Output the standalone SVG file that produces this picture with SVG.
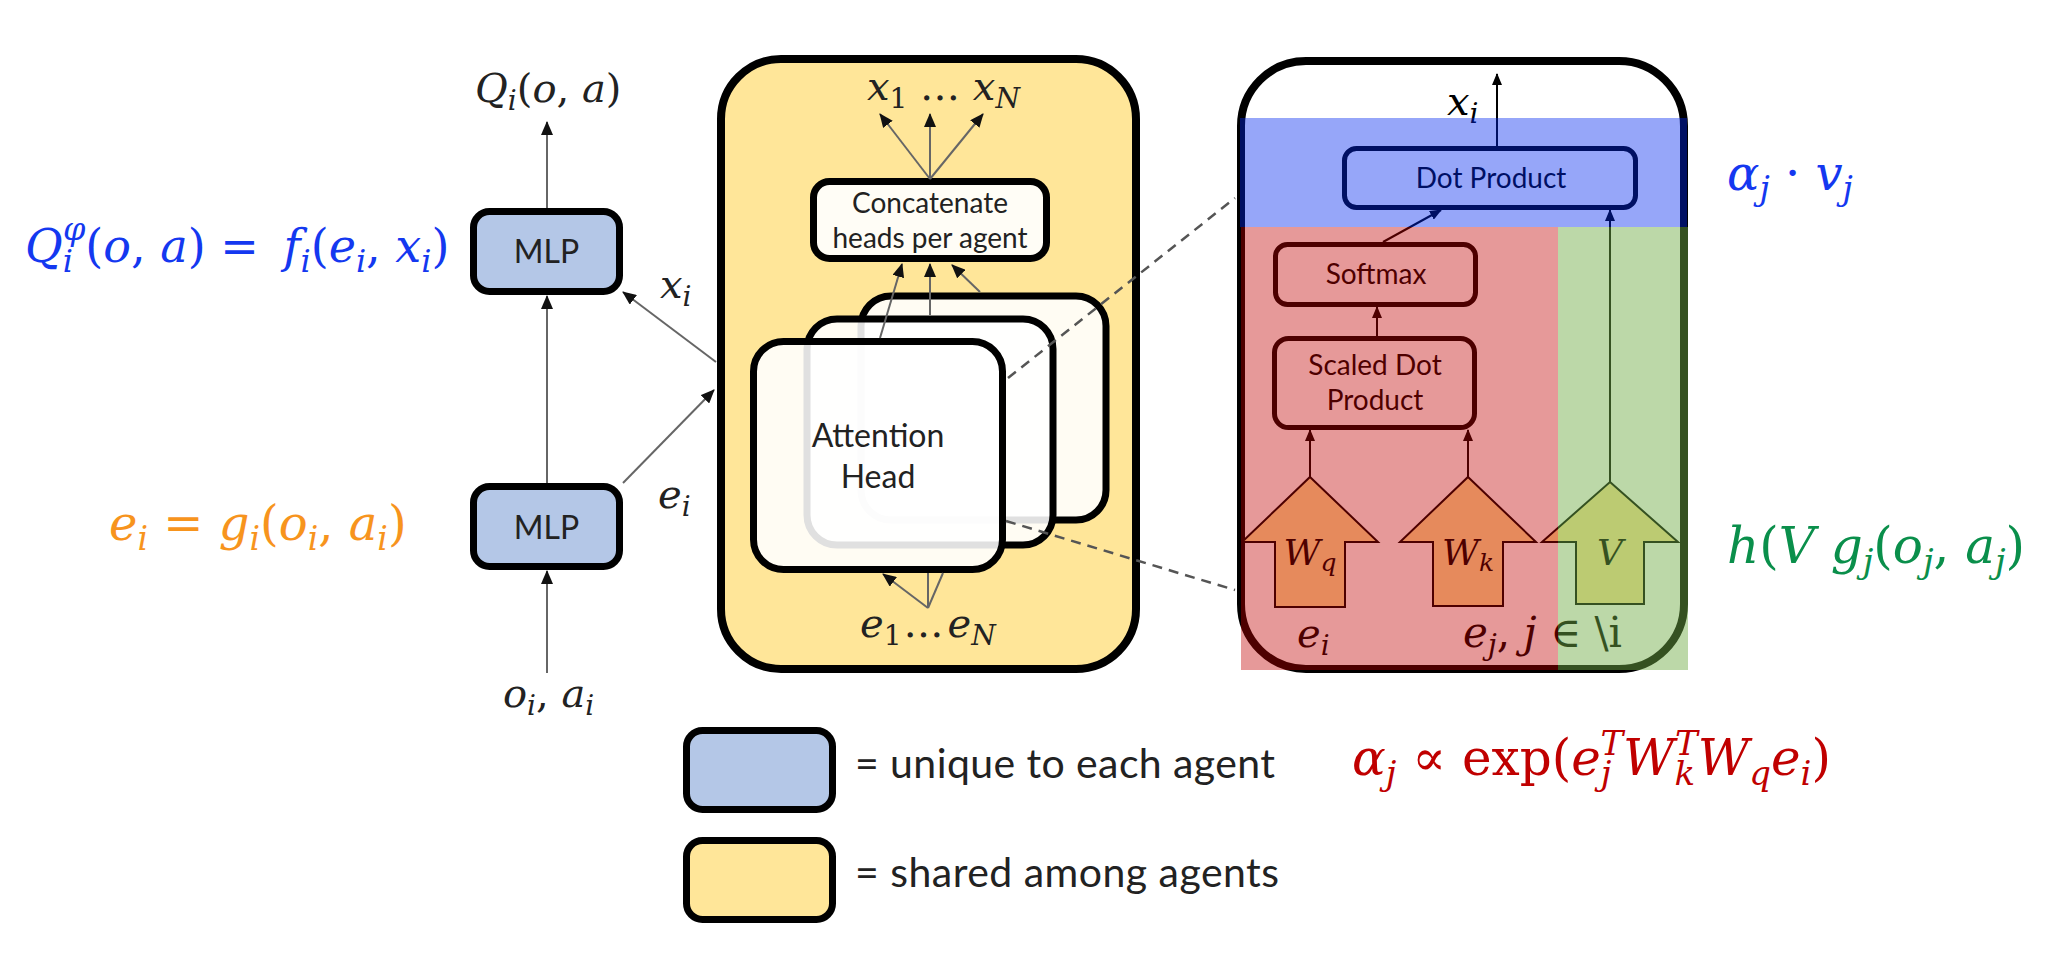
<svg xmlns="http://www.w3.org/2000/svg" width="2048" height="965" viewBox="0 0 2048 965">
<defs>
<style>
.sans{font-family:Lato,"Liberation Sans",sans-serif;fill:#222;}
.m{font-family:"DejaVu Serif","Liberation Serif",serif;}
.i{font-style:italic}
.dk{fill:#222}
.box{stroke:#000;stroke-width:7;}
.mlp{fill:#B4C7E7}
.yel{fill:#FFE699}
.conn{stroke:#666;stroke-width:2;fill:none}
.pconn{stroke:#000;stroke-width:2;fill:none}
.dash{stroke:#555;stroke-width:2.5;stroke-dasharray:10 7;fill:none}
.head{fill:#fff;fill-opacity:0.88;stroke:#000;stroke-width:7}
.pbox{fill:#fff;stroke:#000;stroke-width:5}
.blk{fill:#FFE699;stroke:#000;stroke-width:2}
</style>
<marker id="ah" viewBox="0 0 14 12" refX="13" refY="6" markerWidth="14" markerHeight="12" orient="auto" markerUnits="userSpaceOnUse"><path d="M0,0 L14,6 L0,12 z" fill="#111"/></marker>
<marker id="ahs" viewBox="0 0 12 10" refX="11" refY="5" markerWidth="12" markerHeight="10" orient="auto" markerUnits="userSpaceOnUse"><path d="M0,0 L12,5 L0,10 z" fill="#000"/></marker>
</defs>
<rect x="0" y="0" width="2048" height="965" fill="#fff"/>

<!-- formulas -->
<text id="f-q" class="m" x="25" y="262" font-size="46" fill="#1438F0"><tspan class="i">Q</tspan><tspan class="i" font-size="32" dy="10">i</tspan><tspan class="i" font-size="32" dx="-10" dy="-32">φ</tspan><tspan dy="22">(</tspan><tspan class="i">o</tspan>,<tspan class="i"> a</tspan>) = <tspan class="i" dx="10">f</tspan><tspan class="i" font-size="32" dy="10">i</tspan><tspan dy="-10">(</tspan><tspan class="i">e</tspan><tspan class="i" font-size="32" dy="10">i</tspan><tspan dy="-10">, </tspan><tspan class="i">x</tspan><tspan class="i" font-size="32" dy="10">i</tspan><tspan dy="-10">)</tspan></text>
<text id="f-e" class="m" x="109" y="540" font-size="48" fill="#F7941D"><tspan class="i">e</tspan><tspan class="i" font-size="33" dy="10">i</tspan><tspan dy="-10"> = </tspan><tspan class="i">g</tspan><tspan class="i" font-size="33" dy="10">i</tspan><tspan dy="-10">(</tspan><tspan class="i">o</tspan><tspan class="i" font-size="33" dy="10">i</tspan><tspan dy="-10">, </tspan><tspan class="i">a</tspan><tspan class="i" font-size="33" dy="10">i</tspan><tspan dy="-10">)</tspan></text>
<text id="f-av" class="m" x="1727" y="190" font-size="48" fill="#1438F0"><tspan class="i">α</tspan><tspan class="i" font-size="33" dy="10">j</tspan><tspan dy="-10"> · </tspan><tspan class="i">v</tspan><tspan class="i" font-size="33" dy="10">j</tspan></text>
<text id="f-h" class="m" x="1727" y="563" font-size="50" fill="#0A8F4B"><tspan class="i">h</tspan>(<tspan class="i">V g</tspan><tspan class="i" font-size="34" dy="10">j</tspan><tspan dy="-10">(</tspan><tspan class="i">o</tspan><tspan class="i" font-size="34" dy="10">j</tspan><tspan dy="-10">, </tspan><tspan class="i">a</tspan><tspan class="i" font-size="34" dy="10">j</tspan><tspan dy="-10">)</tspan></text>
<text id="f-alpha" class="m" x="1352" y="775" font-size="50" fill="#C00000"><tspan class="i">α</tspan><tspan class="i" font-size="34" dy="10">j</tspan><tspan dy="-10"> ∝ exp(</tspan><tspan class="i">e</tspan><tspan class="i" font-size="34" dy="10">j</tspan><tspan class="i" font-size="34" dx="-11" dy="-30">T</tspan><tspan class="i" dy="20">W</tspan><tspan class="i" font-size="34" dy="10">k</tspan><tspan class="i" font-size="34" dx="-20" dy="-30">T</tspan><tspan class="i" dy="20">W</tspan><tspan class="i" font-size="34" dy="10">q</tspan><tspan class="i" dy="-10">e</tspan><tspan class="i" font-size="34" dy="10">i</tspan><tspan dy="-10">)</tspan></text>

<!-- left column -->
<g id="mlp-upper">
<rect class="box mlp" x="473.5" y="211.5" width="146" height="80" rx="16"/>
<text class="sans" x="546.5" y="263" font-size="32" text-anchor="middle">MLP</text>
</g>
<g id="mlp-lower">
<rect class="box mlp" x="473.5" y="486.5" width="146" height="80" rx="16"/>
<text class="sans" x="546.5" y="539" font-size="32" text-anchor="middle">MLP</text>
</g>
<text class="m dk" x="475" y="102" font-size="40"><tspan class="i">Q</tspan><tspan class="i" font-size="28" dy="8">i</tspan><tspan dy="-8">(</tspan><tspan class="i">o</tspan>, <tspan class="i">a</tspan>)</text>
<text class="m dk" x="660" y="298" font-size="40"><tspan class="i">x</tspan><tspan class="i" font-size="28" dy="8">i</tspan></text>
<text class="m dk" x="658" y="508" font-size="40"><tspan class="i">e</tspan><tspan class="i" font-size="28" dy="8">i</tspan></text>
<text class="m dk" x="503" y="707" font-size="40"><tspan class="i">o</tspan><tspan class="i" font-size="28" dy="8">i</tspan><tspan dy="-8">, </tspan><tspan class="i">a</tspan><tspan class="i" font-size="28" dy="8">i</tspan></text>

<!-- attention block -->
<g id="attention-block">
<rect class="yel" x="721" y="59" width="415" height="610" rx="60" stroke="#000" stroke-width="8"/>
</g>
<g id="head-3"><rect class="head" x="861" y="296" width="245" height="224" rx="30"/></g>
<g id="head-2"><rect class="head" x="807" y="319" width="246" height="226" rx="30"/></g>
<g id="head-1">
<rect class="head" x="753.5" y="341.5" width="249" height="228" rx="30"/>
<text class="sans" x="878" y="447" font-size="32" text-anchor="middle">Attention</text>
<text class="sans" x="878" y="488" font-size="32" text-anchor="middle">Head</text>
</g>
<g id="concat">
<rect x="813.5" y="181.5" width="233" height="77" rx="16" fill="#FFFDF6" stroke="#000" stroke-width="7"/>
<text class="sans" x="930" y="213" font-size="28" text-anchor="middle">Concatenate</text>
<text class="sans" x="930" y="248" font-size="28" text-anchor="middle">heads per agent</text>
</g>
<text class="m dk" x="867" y="100" font-size="40"><tspan class="i">x</tspan><tspan font-size="28" dy="8">1</tspan><tspan dy="-8"> … </tspan><tspan class="i">x</tspan><tspan class="i" font-size="28" dy="8">N</tspan></text>
<text class="m dk" x="860" y="637" font-size="40"><tspan class="i">e</tspan><tspan font-size="28" dy="8">1</tspan><tspan dy="-8" dx="2">…</tspan><tspan class="i" dx="4">e</tspan><tspan class="i" font-size="28" dy="8">N</tspan></text>

<!-- right panel -->
<g id="attn-panel"><rect x="1241" y="61" width="443" height="608" rx="65" fill="#fff" stroke="#000" stroke-width="8"/></g>
<g id="dot-product">
<rect class="pbox" x="1344.5" y="148.5" width="291" height="59" rx="12"/>
<text class="sans" x="1491" y="188" font-size="28" text-anchor="middle" style="fill:#000">Dot Product</text>
</g>
<g id="softmax">
<rect class="pbox" x="1275.5" y="244.5" width="200" height="60" rx="12"/>
<text class="sans" x="1376" y="284" font-size="28" text-anchor="middle" style="fill:#000">Softmax</text>
</g>
<g id="scaled-dot">
<rect class="pbox" x="1274.5" y="338.5" width="200" height="89" rx="14"/>
<text class="sans" x="1375" y="375" font-size="28" text-anchor="middle" style="fill:#000">Scaled Dot</text>
<text class="sans" x="1375" y="410" font-size="28" text-anchor="middle" style="fill:#000">Product</text>
</g>
<g id="wq">
<polygon class="blk" points="1310,477 1378,542 1345,542 1345,607 1275,607 1275,542 1242,542"/>
<text class="m i" x="1310" y="565" font-size="36" text-anchor="middle">W<tspan font-size="25" dy="6">q</tspan></text>
</g>
<g id="wk">
<polygon class="blk" points="1468,477 1536,542 1503,542 1503,606 1433,606 1433,542 1400,542"/>
<text class="m i" x="1468" y="565" font-size="36" text-anchor="middle">W<tspan font-size="25" dy="6">k</tspan></text>
</g>
<g id="v">
<polygon class="blk" points="1610,482 1678,542 1644,542 1644,604 1576,604 1576,542 1542,542"/>
<text class="m i" x="1610" y="565" font-size="36" text-anchor="middle">V</text>
</g>
<text class="m" x="1447" y="115" font-size="40"><tspan class="i">x</tspan><tspan class="i" font-size="28" dy="8">i</tspan></text>
<text class="m" x="1297" y="647" font-size="40"><tspan class="i">e</tspan><tspan class="i" font-size="28" dy="8">i</tspan></text>
<text class="m" x="1463" y="647" font-size="42"><tspan class="i">e</tspan><tspan class="i" font-size="29" dy="8">j</tspan><tspan dy="-8">, </tspan><tspan class="i">j</tspan> ∈ \i</text>

<!-- connectors -->
<g id="connectors">
<line class="conn" x1="547" y1="208" x2="547" y2="122" marker-end="url(#ah)"/>
<line class="conn" x1="547" y1="483" x2="547" y2="296" marker-end="url(#ah)"/>
<line class="conn" x1="547" y1="673" x2="547" y2="571" marker-end="url(#ah)"/>
<line class="conn" x1="623" y1="483" x2="714" y2="390" marker-end="url(#ah)"/>
<line class="conn" x1="716" y1="362" x2="623" y2="292" marker-end="url(#ah)"/>
<line class="conn" x1="930" y1="179" x2="880" y2="114" marker-end="url(#ah)"/>
<line class="conn" x1="930" y1="179" x2="930" y2="114" marker-end="url(#ah)"/>
<line class="conn" x1="930" y1="179" x2="983" y2="114" marker-end="url(#ah)"/>
<line class="conn" x1="880" y1="338" x2="902" y2="264" marker-end="url(#ah)"/>
<line class="conn" x1="930" y1="315" x2="930" y2="264" marker-end="url(#ah)"/>
<line class="conn" x1="980" y1="292" x2="952" y2="265" marker-end="url(#ah)"/>
<line class="conn" x1="928" y1="608" x2="883" y2="574" marker-end="url(#ah)"/>
<line class="conn" x1="928" y1="608" x2="928" y2="573"/>
<line class="conn" x1="928" y1="608" x2="943" y2="573"/>
<line class="dash" x1="1008" y1="378" x2="1235" y2="198"/>
<line class="dash" x1="1006" y1="521" x2="1235" y2="590"/>
<line class="pconn" x1="1497" y1="146" x2="1497" y2="74" marker-end="url(#ahs)"/>
<line class="pconn" x1="1383" y1="242" x2="1441" y2="210" marker-end="url(#ahs)"/>
<line class="pconn" x1="1377" y1="336" x2="1377" y2="307" marker-end="url(#ahs)"/>
<line class="pconn" x1="1310" y1="477" x2="1310" y2="430" marker-end="url(#ahs)"/>
<line class="pconn" x1="1468" y1="477" x2="1468" y2="430" marker-end="url(#ahs)"/>
<line class="pconn" x1="1610" y1="482" x2="1610" y2="210" marker-end="url(#ahs)"/>
</g>

<g id="highlights">
<rect x="1240" y="118" width="447" height="109" fill="#0028F0" fill-opacity="0.41"/>
<rect x="1241" y="227" width="317" height="443" fill="#C00000" fill-opacity="0.4"/>
<rect x="1558" y="227" width="130" height="443" fill="#70AD47" fill-opacity="0.47"/>
</g>

<g id="legend">
<g id="legend-unique">
<rect class="box mlp" x="686.5" y="730.5" width="146" height="79" rx="16"/>
<text class="sans" x="855" y="778" font-size="41" textLength="420">= unique to each agent</text>
</g>
<g id="legend-shared">
<rect class="box yel" x="686.5" y="840.5" width="146" height="79" rx="16"/>
<text class="sans" x="855" y="887" font-size="41" textLength="424">= shared among agents</text>
</g>
</g>
</svg>
